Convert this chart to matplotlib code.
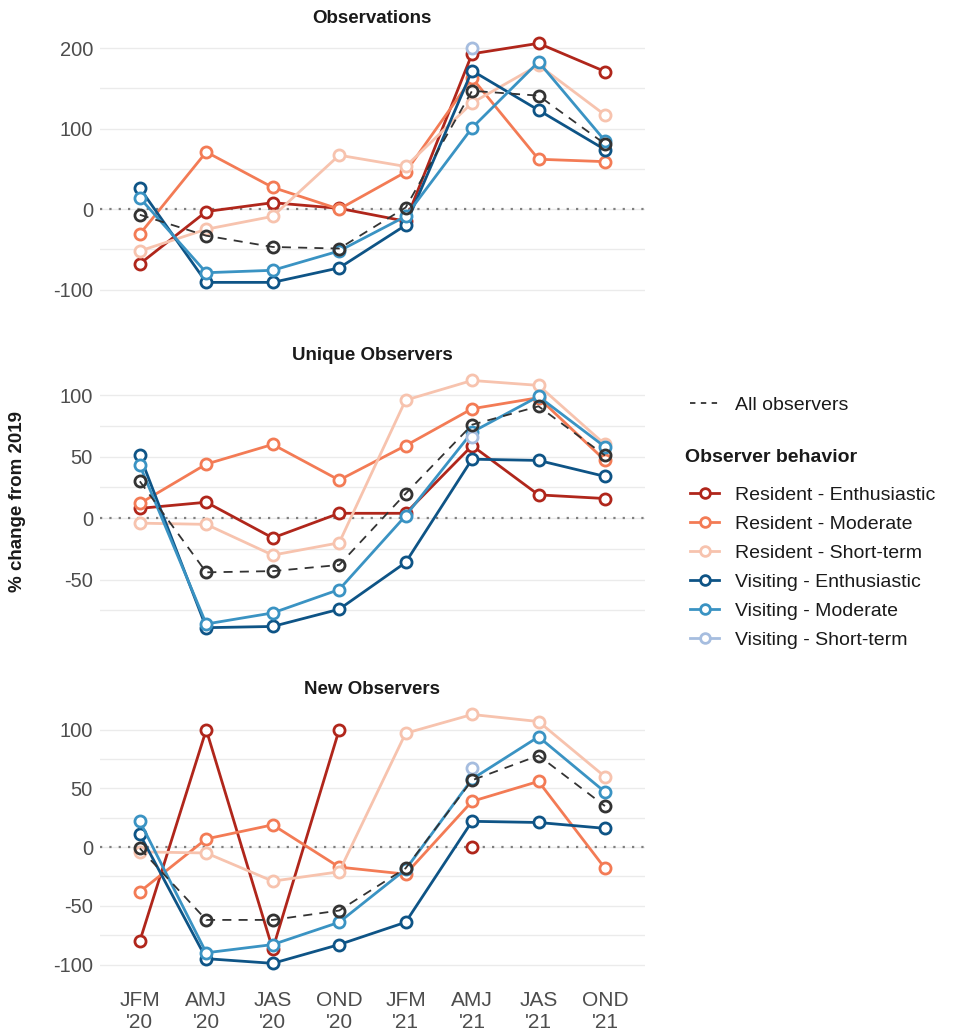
import numpy as np
import matplotlib
matplotlib.use("Agg")
import matplotlib.pyplot as plt
from matplotlib.lines import Line2D

plt.rcParams['font.family'] = ['Liberation Sans', 'DejaVu Sans']

quarters = ["JFM\n'20", "AMJ\n'20", "JAS\n'20", "OND\n'20",
            "JFM\n'21", "AMJ\n'21", "JAS\n'21", "OND\n'21"]
nan = np.nan

series_names = ["Resident - Enthusiastic", "Resident - Moderate", "Resident - Short-term",
                "Visiting - Enthusiastic", "Visiting - Moderate", "Visiting - Short-term"]
series_colors = ["#B0261B", "#F37B55", "#F7C3AE", "#0E5486", "#3A93C3", "#A6BDDF"]

# Observations
obs_res_enth = [-68, -3, 8, 1, -15, 193, 206, 171]
obs_res_mod = [-31, 71, 27, 0, 46, 163, 62, 59]
obs_res_short = [-52, -25, -9, 67, 53, 132, 179, 117]
obs_vis_enth = [26, -91, -91, -73, -20, 172, 123, 74]
obs_vis_mod = [14, -79, -76, -52, -9, 101, 183, 85]
obs_vis_short = [nan, nan, nan, nan, nan, 200, nan, nan]
obs_all = [-7, -33, -47, -49, 2, 147, 141, 81]

# Unique Observers
uniq_res_enth = [8, 13, -16, 4, 4, 59, 19, 16]
uniq_res_mod = [12, 44, 60, 31, 59, 89, 98, 47]
uniq_res_short = [-4, -5, -30, -20, 96, 112, 108, 60]
uniq_vis_enth = [51, -89, -88, -74, -36, 48, 47, 34]
uniq_vis_mod = [43, -86, -77, -58, 2, 70, 99, 58]
uniq_vis_short = [nan, nan, nan, nan, nan, 66, nan, nan]
uniq_all = [30, -44, -43, -38, 20, 76, 91, 51]

# New Observers
new_res_enth = [-80, 100, -87, 100, nan, 0, nan, nan]
new_res_mod = [-38, 7, 19, -17, -23, 39, 56, -18]
new_res_short = [-4, -5, -29, -21, 97, 113, 107, 60]
new_vis_enth = [11, -95, -99, -83, -64, 22, 21, 16]
new_vis_mod = [22, -90, -83, -64, -19, 58, 94, 47]
new_vis_short = [nan, nan, nan, nan, nan, 67, nan, nan]
new_all = [-1, -62, -62, -54, -18, 57, 78, 35]

panels = [
    ("Observations", [obs_res_enth, obs_res_mod, obs_res_short, obs_vis_enth, obs_vis_mod, obs_vis_short], obs_all,
     [-100, 0, 100, 200], np.arange(-100, 201, 50)),
    ("Unique Observers", [uniq_res_enth, uniq_res_mod, uniq_res_short, uniq_vis_enth, uniq_vis_mod, uniq_vis_short], uniq_all,
     [-50, 0, 50, 100], np.arange(-75, 101, 25)),
    ("New Observers", [new_res_enth, new_res_mod, new_res_short, new_vis_enth, new_vis_mod, new_vis_short], new_all,
     [-100, -50, 0, 50, 100], np.arange(-100, 101, 25)),
]

fig = plt.figure(figsize=(9.61, 10.34), dpi=100)
left, width = 0.104, 0.567
boxes = [(0.708, 0.262), (0.381, 0.263), (0.0551, 0.266)]
x = np.arange(1, 9)

text_col = "#4D4D4D"
for i, ((title, ser, allv, ticks, minor), (b, h)) in enumerate(zip(panels, boxes)):
    ax = fig.add_axes([left, b, width, h])
    for t in minor:
        ax.axhline(t, color="#EBEBEB", lw=1.0, zorder=0)
    ax.axhline(0, color="#7F7F7F", lw=1.6, ls=(0, (1, 3.2)), zorder=1)
    for vals, col in zip(ser, series_colors):
        ax.plot(x, vals, color=col, lw=2.0, marker="o", ms=8, mfc="white",
                mec=col, mew=2.0, zorder=3, clip_on=False)
    ax.plot(x, allv, color="#333333", lw=1.3, ls=(0, (5, 4)), marker="o", ms=8,
            mfc="none", mec="#333333", mew=2.0, zorder=4, clip_on=False)
    ax.set_xlim(0.4, 8.6)
    ax.margins(y=0.05)
    ax.set_yticks(ticks)
    ax.set_yticklabels([str(t) for t in ticks])
    ax.set_xticks(x)
    if i == 2:
        ax.set_xticklabels(quarters, fontsize=15, color=text_col, linespacing=1.2)
    else:
        ax.set_xticklabels([])
    ax.tick_params(axis="both", length=0, labelsize=14.5, labelcolor=text_col, pad=5)
    ax.tick_params(axis="x", labelsize=15, pad=10)
    for s in ax.spines.values():
        s.set_visible(False)
    ax.set_title(title, fontsize=13.5, fontweight="bold", color="#1A1A1A", pad=6)

fig.text(0.018, 0.515, "% change from 2019", rotation=90, fontsize=13.5, fontweight="bold",
         color="#1A1A1A", ha="center", va="center")

# Legends
h_all = [Line2D([], [], color="#333333", lw=1.3, ls=(0, (3, 3)))]
fig.legend(h_all, ["All observers"], loc="upper left", bbox_to_anchor=(0.700, 0.634),
           frameon=False, fontsize=14, handlelength=1.5, handletextpad=0.8,
           labelcolor="#1A1A1A")
fig.text(0.713, 1 - 457 / 1034, "Observer behavior", fontsize=14, fontweight="bold",
         color="#1A1A1A", ha="left", va="center")
handles = [Line2D([], [], color=c, lw=2.0, marker="o", ms=7, mfc="white", mec=c, mew=2.0)
           for c in series_colors]
fig.legend(handles, series_names, loc="upper left", bbox_to_anchor=(0.700, 1 - 469 / 1034),
           frameon=False, fontsize=14, handlelength=1.5, handletextpad=0.8,
           labelspacing=0.58, labelcolor="#1A1A1A")

fig.savefig("out.png", dpi=100, facecolor="white")
